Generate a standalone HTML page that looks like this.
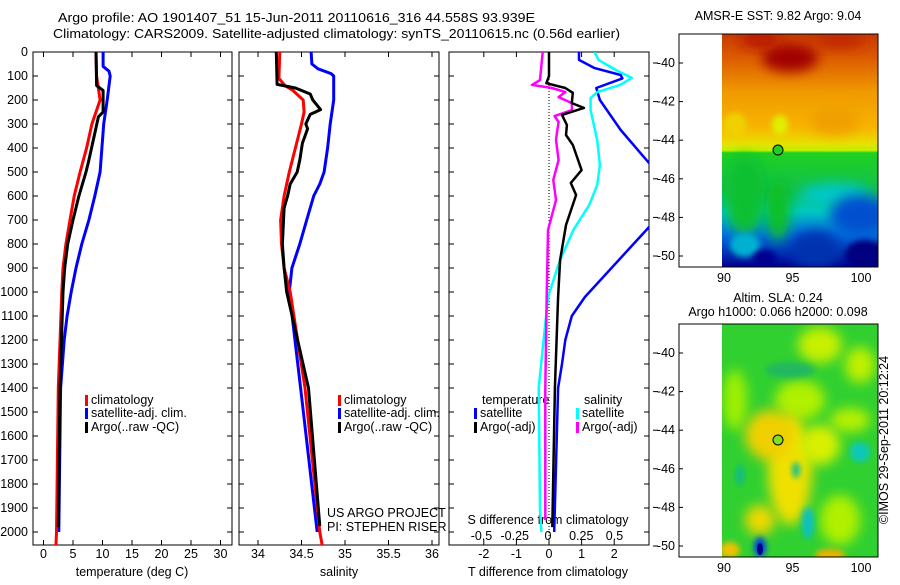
<!DOCTYPE html>
<html><head><meta charset="utf-8">
<style>
body{margin:0;background:#fff;}
svg text{font-family:"Liberation Sans",sans-serif;font-size:12.5px;fill:#000;}
</style></head>
<body>
<svg id="fig" width="900" height="580" viewBox="0 0 900 580" xmlns="http://www.w3.org/2000/svg">
<defs>
<clipPath id="c1"><rect x="33" y="52" width="199" height="493"/></clipPath>
<clipPath id="c2"><rect x="239" y="52" width="200" height="493"/></clipPath>
<clipPath id="c3"><rect x="449" y="52" width="200" height="493"/></clipPath>
<clipPath id="m1c"><rect x="722" y="34" width="156" height="233"/></clipPath>
<clipPath id="m2c"><rect x="722" y="324" width="156" height="233"/></clipPath>
<filter id="bl" x="-50%" y="-50%" width="200%" height="200%"><feGaussianBlur stdDeviation="6"/></filter>
<filter id="bl2" x="-50%" y="-50%" width="200%" height="200%"><feGaussianBlur stdDeviation="3"/></filter>
<linearGradient id="g1" x1="0" y1="0" x2="0" y2="1">
<stop offset="0" stop-color="#c83a00"/><stop offset="0.1" stop-color="#dc5a00"/>
<stop offset="0.25" stop-color="#f09a00"/><stop offset="0.4" stop-color="#f8b400"/>
<stop offset="0.47" stop-color="#e8e000"/><stop offset="0.5" stop-color="#c0f000"/>
<stop offset="0.51" stop-color="#20d020"/><stop offset="0.68" stop-color="#10c050"/>
<stop offset="0.76" stop-color="#00c8c0"/><stop offset="0.86" stop-color="#0070e0"/>
<stop offset="1" stop-color="#000090"/></linearGradient>
</defs>
<text x="58" y="22" font-size="14" textLength="477" lengthAdjust="spacingAndGlyphs">Argo profile: AO 1901407_51 15-Jun-2011 20110616_316 44.558S 93.939E</text>
<text x="53" y="38" font-size="14" textLength="567" lengthAdjust="spacingAndGlyphs">Climatology: CARS2009. Satellite-adjusted climatology: synTS_20110615.nc (0.56d earlier)</text>
<g id="axes"></g>
<g id="series"></g>

<text x="778" y="20" text-anchor="middle">AMSR-E SST: 9.82  Argo: 9.04</text>
<g clip-path="url(#m1c)">
<rect x="722" y="34" width="156" height="233" fill="url(#g1)"/>
<ellipse cx="790" cy="58" rx="28" ry="14" fill="#a00000" filter="url(#bl)"/>
<ellipse cx="760" cy="40" rx="20" ry="8" fill="#b81800" filter="url(#bl)"/>
<ellipse cx="840" cy="40" rx="25" ry="8" fill="#c02800" filter="url(#bl)"/>
<ellipse cx="835" cy="120" rx="25" ry="15" fill="#f0a000" filter="url(#bl)"/>
<ellipse cx="780" cy="125" rx="8" ry="10" fill="#e0f000" filter="url(#bl2)"/>
<ellipse cx="735" cy="125" rx="12" ry="12" fill="#f0d000" filter="url(#bl2)"/>
<ellipse cx="745" cy="195" rx="20" ry="40" fill="#10c030" filter="url(#bl)"/>
<ellipse cx="778" cy="210" rx="12" ry="30" fill="#10c020" filter="url(#bl)"/>
<ellipse cx="835" cy="195" rx="35" ry="12" fill="#00c8c8" filter="url(#bl)"/>
<ellipse cx="745" cy="245" rx="15" ry="12" fill="#00b0d0" filter="url(#bl2)"/>
<ellipse cx="860" cy="215" rx="30" ry="20" fill="#0050d0" filter="url(#bl)"/>
<ellipse cx="815" cy="250" rx="25" ry="20" fill="#0030b0" filter="url(#bl)"/>
<ellipse cx="765" cy="258" rx="12" ry="8" fill="#000090" filter="url(#bl2)"/>
<ellipse cx="865" cy="255" rx="20" ry="15" fill="#000080" filter="url(#bl2)"/>
</g>
<rect x="679" y="34" width="199" height="233" fill="none" stroke="#000"/>
<circle cx="778" cy="150" r="5" fill="#20d020" stroke="#000"/>

<text x="778" y="302" text-anchor="middle">Altim. SLA: 0.24</text>
<text x="778" y="316" text-anchor="middle">Argo h1000: 0.066 h2000: 0.098</text>
<g clip-path="url(#m2c)">
<rect x="722" y="324" width="156" height="233" fill="#30d030"/>
<ellipse cx="800" cy="400" rx="25" ry="20" fill="#b0f000" filter="url(#bl)"/>
<ellipse cx="820" cy="345" rx="22" ry="18" fill="#c8f000" filter="url(#bl)"/>
<ellipse cx="860" cy="365" rx="15" ry="18" fill="#c0f000" filter="url(#bl)"/>
<ellipse cx="735" cy="400" rx="12" ry="30" fill="#a0f000" filter="url(#bl)"/>
<ellipse cx="850" cy="420" rx="20" ry="12" fill="#b8f000" filter="url(#bl)"/>
<ellipse cx="840" cy="520" rx="20" ry="25" fill="#b0f000" filter="url(#bl)"/>
<ellipse cx="790" cy="470" rx="22" ry="55" fill="#f0e000" filter="url(#bl)"/>
<ellipse cx="770" cy="435" rx="25" ry="25" fill="#f0d000" filter="url(#bl)"/>
<ellipse cx="820" cy="445" rx="20" ry="20" fill="#d8f000" filter="url(#bl)"/>
<ellipse cx="760" cy="520" rx="15" ry="15" fill="#f0d800" filter="url(#bl)"/>
<ellipse cx="830" cy="555" rx="15" ry="6" fill="#f0b000" filter="url(#bl2)"/>
<ellipse cx="730" cy="550" rx="10" ry="8" fill="#f0c000" filter="url(#bl2)"/>
<ellipse cx="790" cy="370" rx="25" ry="8" fill="#20b860" filter="url(#bl2)"/>
<ellipse cx="860" cy="452" rx="10" ry="10" fill="#10c8b8" filter="url(#bl2)"/>
<ellipse cx="808" cy="523" rx="6" ry="16" fill="#10c0c0" filter="url(#bl2)"/>
<ellipse cx="796" cy="470" rx="4" ry="8" fill="#10c090" filter="url(#bl2)"/>
<ellipse cx="740" cy="475" rx="4" ry="10" fill="#10b890" filter="url(#bl2)"/>
<ellipse cx="760" cy="547" rx="6" ry="10" fill="#0040e0" filter="url(#bl2)"/>
<ellipse cx="760" cy="549" rx="3" ry="6" fill="#000090"/>
</g>
<rect x="679" y="324" width="199" height="233" fill="none" stroke="#000"/>
<circle cx="778" cy="440" r="5" fill="#80e020" stroke="#000"/>
<text x="888" y="440" text-anchor="middle" transform="rotate(-90 888 440)">©IMOS 29-Sep-2011 20:12:24</text>
</svg>
<script>
const depthTicks=[0,100,200,300,400,500,600,700,800,900,1000,1100,1200,1300,1400,1500,1600,1700,1800,1900,2000];
const tempTicks=[0,5,10,15,20,25,30];
const salTicks=[34,34.5,35,35.5,36];
const tdiffTicks=[-2,-1,0,1,2];
const sdiffTicks=[-0.5,-0.25,0,0.25,0.5];
const latTicks=[-40,-42,-44,-46,-48,-50];
const lonTicks=[90,95,100];
const climTDepth=[0,100,200,300,400,500,600,700,800,900,1000,1400,2000,2060];
const climT=[8.9,9.0,9.6,8.2,7.3,6.2,5.2,4.5,3.8,3.3,3.1,2.5,2.2,2.1];
const argoTDepth=[0,140,160,250,270,350,450,500,600,700,800,900,1000,1400,1980];
const argoT=[8.9,9.0,10.1,10.1,9.3,8.6,7.7,7.2,6.0,5.0,4.1,3.6,3.3,2.8,2.5];
const satTDepth=[0,60,80,100,200,300,400,500,600,700,800,900,1000,1100,1200,1300,1400,2000];
const satT=[10.1,10.1,11.1,11.3,10.8,10.2,9.9,9.6,8.7,7.7,6.5,5.5,4.7,4.0,3.5,3.2,2.9,2.6];
const climSDepth=[0,110,140,160,200,250,300,400,500,600,700,800,900,1000,1400,2000,2060];
const climS=[34.25,34.24,34.31,34.40,34.52,34.53,34.50,34.43,34.36,34.30,34.26,34.27,34.30,34.37,34.54,34.71,34.74];
const argoSDepth=[0,135,150,175,200,240,260,300,320,380,450,500,550,600,650,800,900,1000,1400,1975];
const argoS=[34.21,34.22,34.43,34.60,34.63,34.72,34.60,34.55,34.57,34.51,34.48,34.45,34.37,34.34,34.30,34.28,34.30,34.33,34.58,34.71];
const satSDepth=[0,50,70,90,100,200,300,400,500,550,600,700,800,900,1000,1400,2000];
const satS=[34.61,34.62,34.69,34.84,34.87,34.87,34.83,34.80,34.76,34.71,34.64,34.56,34.48,34.39,34.36,34.49,34.68];
const dTargoDepth=[0,100,130,150,170,213,233,262,304,346,387,492,546,596,721,867,1021,1400,1980];
const dTargo=[0,0,-0.08,0.5,0.73,0.7,1.07,0.4,0.55,0.52,0.73,1.0,0.67,0.83,0.52,0.34,0.28,0.18,0.1];
const dTsatDepth=[0,33,67,96,110,150,200,325,463,550,650,729,1021,1100,1200,1300,1400,2000];
const dTsat=[0.92,0.92,1.4,2.2,2.25,1.45,1.56,2.2,3.07,3.6,3.4,3.07,1.1,0.7,0.5,0.4,0.28,0.16];
const dSargoDepth=[0,117,137,150,167,188,213,242,267,292,325,367,450,533,617,742,1021,1400,1950];
const dSargo=[-0.04,-0.06,-0.12,0.03,0.13,0.08,0.18,0.18,0.05,0.08,0.07,0.06,0.08,0.04,0.06,0,-0.01,-0.02,-0.02];
const dSsatDepth=[0,33,75,108,138,167,192,242,367,471,554,638,742,867,1021,1400,1900,2000];
const dSsat=[0.35,0.38,0.51,0.63,0.54,0.37,0.32,0.32,0.37,0.39,0.37,0.31,0.19,0.09,0,-0.07,-0.06,-0.05];

const NS='http://www.w3.org/2000/svg';
const Y=d=>52+d*0.24;
const XT=t=>43.5+t*5.9;
const XS=s=>258+(s-34)*87;
const XdT=t=>549+t*32.6;
const XdS=s=>548+s*133;
const latY1=l=>63+(-40-l)*19.3;
const latY2=l=>353+(-40-l)*19.3;
const lonX=l=>724+(l-90)*13.7;
const axes=document.getElementById('axes');
const ser=document.getElementById('series');
function mk(tag,attrs,parent){const e=document.createElementNS(NS,tag);for(const k in attrs)e.setAttribute(k,attrs[k]);parent.appendChild(e);return e;}
function txt(s,x,y,anchor,parent){const e=mk('text',{x:x,y:y,'text-anchor':anchor},parent);e.textContent=s;return e;}

const panels=[[33,232],[239,439],[449,649]];
panels.forEach((p,i)=>{
  const r=mk('rect',{x:p[0],y:52,width:p[1]-p[0],height:493,fill:'none',stroke:'#000'},axes);
  
  
  depthTicks.forEach(d=>{
    mk('line',{x1:p[0],x2:p[0]+5,y1:Y(d),y2:Y(d),stroke:'#000'},axes);
    mk('line',{x1:p[1],x2:p[1]-5,y1:Y(d),y2:Y(d),stroke:'#000'},axes);
  });
});
depthTicks.forEach(d=>{
  const t=txt(String(d),28,Y(d)+4,'end',axes);
  
  
  t.setAttribute('font-size','13');
});
function xticks(ticks,fx,ly,lab){
  ticks.forEach(v=>{
    mk('line',{x1:fx(v),x2:fx(v),y1:545,y2:540,stroke:'#000'},axes);
    mk('line',{x1:fx(v),x2:fx(v),y1:52,y2:57,stroke:'#000'},axes);
    const t=txt(lab(v),fx(v),ly,'middle',axes);
    
    
  });
}
xticks(tempTicks,XT,558,v=>String(v));
xticks(salTicks,XS,558,v=>String(v));
xticks(tdiffTicks,XdT,558,v=>String(v));
sdiffTicks.forEach(v=>{
  const t=txt(String(v),XdS(v),540,'middle',axes);
  
  
});
[['temperature (deg C)',132,'temperature-axis-title'],['salinity',339,'salinity-axis-title'],['T difference from climatology',548,'tdiff-axis-title']].forEach(a=>{
  const t=txt(a[0],a[1],576,'middle',axes);
  
  
});
const st=txt('S difference from climatology',548,524,'middle',axes);


mk('line',{x1:XdT(0),x2:XdT(0),y1:52,y2:545,stroke:'#000','stroke-dasharray':'1,2'},axes);

[[latY1,267,34,282],[latY2,557,324,572]].forEach(m=>{
  latTicks.forEach(l=>{
    const y=m[0](l);
    mk('line',{x1:679,x2:683,y1:y,y2:y,stroke:'#000'},axes);
    mk('line',{x1:878,x2:874,y1:y,y2:y,stroke:'#000'},axes);
    mk('line',{x1:653,x2:658,y1:y,y2:y,stroke:'#000'},axes);
    const t=txt(String(l),675,y+4,'end',axes);
    
    
  });
  lonTicks.forEach(l=>{
    const x=lonX(l);
    mk('line',{x1:x,x2:x,y1:m[1],y2:m[1]-4,stroke:'#000'},axes);
    mk('line',{x1:x,x2:x,y1:m[2],y2:m[2]+4,stroke:'#000'},axes);
    const t=txt(String(l),x,m[3],'middle',axes);
    
    
  });
});

function line(ds,vs,fx,color,w,clip,name){
  const pts=ds.map((d,i)=>fx(vs[i]).toFixed(1)+','+Y(d).toFixed(1)).join(' ');
  const e=mk('polyline',{points:pts,fill:'none',stroke:color,'stroke-width':w,'clip-path':'url(#'+clip+')','stroke-linejoin':'round'},ser);
  
  
}
line(satTDepth,satT,XT,'#0000ff',3,'c1','temp-satellite-line');
line(climTDepth,climT,XT,'#ff0000',3,'c1','temp-climatology-line');
line(argoTDepth,argoT,XT,'#000',3,'c1','temp-argo-line');
line(satSDepth,satS,XS,'#0000ff',3,'c2','sal-satellite-line');
line(climSDepth,climS,XS,'#ff0000',3,'c2','sal-climatology-line');
line(argoSDepth,argoS,XS,'#000',3,'c2','sal-argo-line');
line(dTsatDepth,dTsat,XdT,'#0000ff',2.5,'c3','tdiff-satellite-line');
line(dSsatDepth,dSsat,XdS,'#00ffff',2.5,'c3','sdiff-satellite-line');
line(dSargoDepth,dSargo,XdS,'#ff00ff',2.5,'c3','sdiff-argo-line');
line(dTargoDepth,dTargo,XdT,'#000',2.5,'c3','tdiff-argo-line');

function legend(x,y,color,label,name){
  const m=mk('rect',{x:x,y:y-9,width:3,height:11,fill:color},axes);
  
  
  const t=txt(label,x+6,y,'start',axes);
  
  
}
legend(85,404,'#ff0000','climatology','legend-temp-climatology');
legend(85,417,'#0000ff','satellite-adj. clim.','legend-temp-satellite');
legend(85,431,'#000','Argo(..raw -QC)','legend-temp-argo');
legend(338,404,'#ff0000','climatology','legend-sal-climatology');
legend(338,417,'#0000ff','satellite-adj. clim.','legend-sal-satellite');
legend(338,431,'#000','Argo(..raw -QC)','legend-sal-argo');
legend(474,417,'#0000ff','satellite','legend-tdiff-satellite');
legend(474,431,'#000','Argo(-adj)','legend-tdiff-argo');
legend(576,417,'#00ffff','satellite','legend-sdiff-satellite');
legend(576,431,'#ff00ff','Argo(-adj)','legend-sdiff-argo');
[['temperature',482,'legend-temperature-heading'],['salinity',584,'legend-salinity-heading']].forEach(a=>{
  const t=txt(a[0],a[1],404,'start',axes);
  
  
});
[['US ARGO PROJECT',517,'project-label'],['PI: STEPHEN RISER',531,'pi-label']].forEach(a=>{
  const t=txt(a[0],327,a[1],'start',axes);
  
  
});
</script>
</body></html>
